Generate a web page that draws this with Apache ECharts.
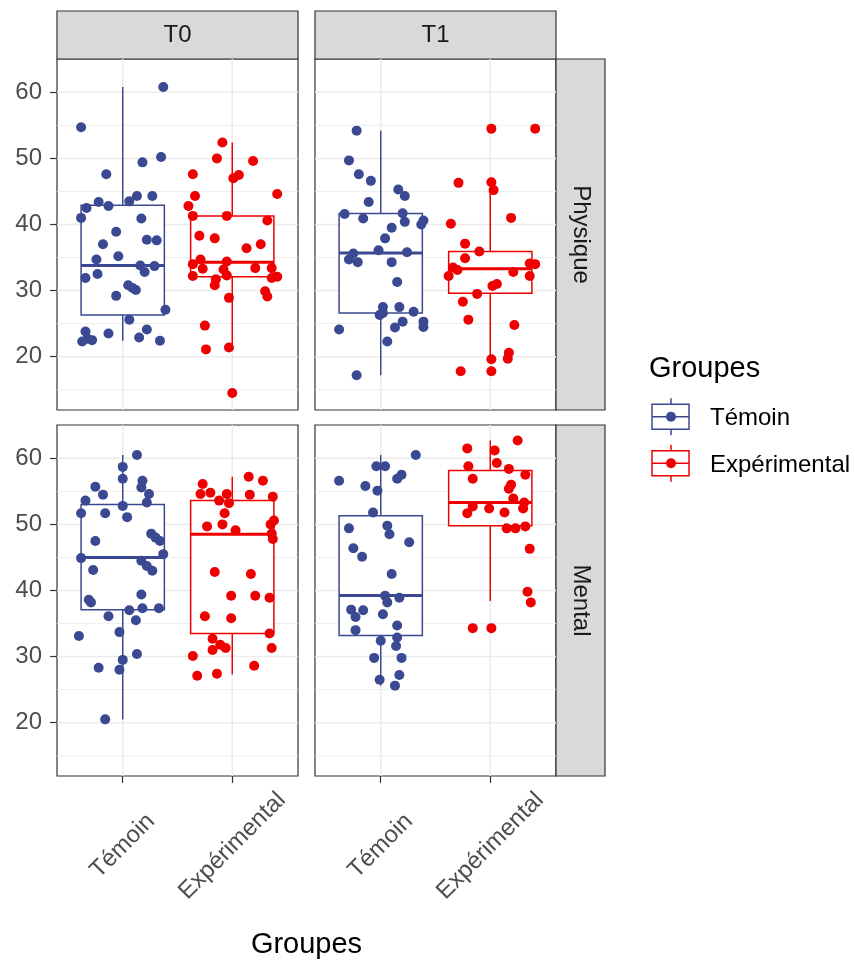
<!DOCTYPE html>
<html><head><meta charset="utf-8">
<script src="https://cdn.jsdelivr.net/npm/echarts@6/dist/echarts.min.js"></script>
<style>html,body{margin:0;padding:0;background:#fff;}#c{width:855px;height:963px;}</style>
</head><body><div id="c"></div>
<script>
// ---------- data ----------
const categories = ['Témoin', 'Expérimental'];
const times = ['T0', 'T1'];
const measures = ['Physique', 'Mental'];
const yTicks = [20, 30, 40, 50, 60];
const yMinorGrid = [15, 25, 35, 45, 55];
const groupColors = ['#3B4992', '#EE0000'];

// T0 Physique
const t0PhyTemVal = [60.8,54.7,49.4,50.2,47.6,44.3,44.3,43.5,43.4,42.8,42.5,41.0,40.9,38.9,37.0,37.7,37.6,35.2,34.7,33.8,33.7,32.8,31.9,32.5,30.8,30.1,29.2,27.1,25.6,23.8,24.1,23.5,22.9,22.3,22.5,22.4,22.7,30.4];
const t0PhyTemJit = [0.37,-0.38,0.18,0.35,-0.15,0.13,0.27,0.06,-0.22,-0.13,-0.33,-0.38,0.17,-0.06,-0.18,0.22,0.31,-0.04,-0.24,0.16,0.29,0.20,-0.34,-0.23,0.05,0.12,-0.06,0.39,0.06,-0.34,0.22,-0.13,0.15,-0.37,-0.28,0.34,-0.32,0.09];
const t0PhyExpVal = [52.4,50.0,49.6,47.6,47.0,47.5,44.3,44.6,42.8,41.3,41.3,40.6,38.3,37.9,36.4,37.0,34.7,34.0,34.4,33.3,33.2,33.4,33.4,32.2,32.3,31.7,30.8,31.9,32.1,29.9,29.1,28.9,24.7,21.1,21.4,14.5];
const t0PhyExpJit = [-0.09,-0.14,0.19,-0.36,0.01,0.06,-0.34,0.41,-0.40,-0.36,-0.05,0.32,-0.30,-0.16,0.13,0.26,-0.29,-0.36,-0.05,-0.27,-0.08,0.21,0.36,-0.36,-0.05,-0.15,-0.16,0.36,0.41,0.30,0.32,-0.03,-0.25,-0.24,-0.03,0.00];
// T1 Physique
const t1PhyTemVal = [54.2,49.7,47.6,46.6,45.3,44.3,43.4,41.6,40.9,41.7,40.4,40.6,40.0,39.5,37.9,36.1,35.8,35.6,34.7,34.3,34.3,31.3,27.5,27.5,26.8,26.3,26.6,25.3,24.4,25.3,24.5,24.1,22.3,17.2];
const t1PhyTemJit = [-0.22,-0.29,-0.20,-0.09,0.16,0.22,-0.11,-0.33,-0.16,0.20,0.22,0.39,0.37,0.10,0.04,-0.02,0.24,-0.25,-0.29,-0.21,0.10,0.15,0.02,0.17,0.30,-0.01,0.02,0.20,0.13,0.39,0.39,-0.38,0.06,-0.22];
const t1PhyExpVal = [54.5,54.5,46.3,46.4,45.2,40.1,41.0,37.1,35.9,34.9,33.5,33.1,32.2,32.8,34.1,34.0,32.2,30.7,31.0,29.5,28.3,25.6,24.8,19.6,20.6,19.7,17.8,17.8];
const t1PhyExpJit = [0.01,0.41,-0.29,0.01,0.03,-0.36,0.19,-0.23,-0.10,-0.23,-0.34,-0.30,-0.38,0.21,0.36,0.41,0.36,0.02,0.06,-0.12,-0.25,-0.20,0.22,0.01,0.17,0.16,-0.27,0.01];
// T0 Mental
const t0MenTemVal = [60.5,58.7,56.9,56.6,55.6,55.7,54.5,54.6,53.6,53.3,52.8,51.7,51.7,51.1,48.6,48.0,47.5,47.5,45.5,44.9,44.5,43.7,43.0,43.1,39.4,38.6,38.2,37.0,37.3,37.3,36.1,35.5,33.7,33.1,30.4,29.5,28.3,28.0,20.5];
const t0MenTemJit = [0.13,0.00,0.00,0.18,0.17,-0.25,-0.18,0.24,-0.34,0.22,0.00,-0.38,-0.16,0.04,0.26,0.30,0.34,-0.25,0.37,-0.38,0.17,0.22,0.27,-0.27,0.17,-0.31,-0.29,0.06,0.18,0.33,-0.13,0.12,-0.03,-0.40,0.13,0.00,-0.22,-0.03,-0.16];
const t0MenExpVal = [57.2,56.6,56.1,54.6,54.8,54.6,53.6,53.2,54.5,54.2,51.7,50.6,50.0,49.7,50.0,49.1,48.6,47.8,42.8,42.5,39.2,39.2,38.9,36.1,35.8,33.5,32.7,31.8,31.3,31.0,31.3,30.1,28.6,27.1,27.4];
const t0MenExpJit = [0.15,0.28,-0.27,-0.29,-0.20,-0.05,-0.12,-0.03,0.16,0.37,-0.07,0.38,0.35,-0.23,-0.09,0.03,0.36,0.37,-0.16,0.17,-0.01,0.21,0.34,-0.25,-0.01,0.34,-0.18,-0.11,-0.06,-0.18,0.36,-0.36,0.20,-0.32,-0.14];
// T1 Mental
const t1MenTemVal = [60.5,58.8,58.8,57.5,56.9,56.6,55.8,55.1,51.8,49.4,49.8,48.5,47.3,46.4,45.1,42.5,39.2,38.2,38.9,37.1,37.0,36.0,36.4,34.7,34.0,32.4,32.9,31.6,29.8,29.8,26.5,27.2,25.6];
const t1MenTemJit = [0.32,-0.04,0.04,0.19,0.15,-0.38,-0.14,-0.03,-0.07,-0.29,0.06,0.08,0.26,-0.25,-0.17,0.10,0.04,0.06,0.17,-0.27,-0.16,-0.23,0.02,0.15,-0.23,0.00,0.15,0.14,-0.06,0.19,-0.01,0.17,0.13];
const t1MenExpVal = [62.7,61.5,61.2,59.3,58.8,58.4,56.9,57.5,56.0,55.4,53.9,53.3,52.4,52.7,52.4,51.7,51.8,49.4,49.4,49.7,46.3,39.8,38.2,34.3,34.3];
const t1MenExpJit = [0.25,-0.21,0.04,0.06,-0.20,0.17,-0.16,0.32,0.19,0.17,0.21,0.31,0.30,-0.16,-0.01,-0.21,0.13,0.15,0.23,0.32,0.36,0.34,0.37,-0.16,0.01];

// box stats: [lower whisker, Q1, median, Q3, upper whisker]
const boxT0PhyTem = [22.4, 26.3, 33.8, 42.9, 60.8];
const boxT0PhyExp = [21.4, 32.1, 34.3, 41.3, 52.4];
const boxT1PhyTem = [17.2, 26.6, 35.7, 41.65, 54.2];
const boxT1PhyExp = [19.6, 29.6, 33.3, 35.9, 45.2];
const boxT0MenTem = [20.5, 37.1, 45.0, 53.0, 60.5];
const boxT0MenExp = [27.3, 33.5, 48.5, 53.6, 57.2];
const boxT1MenTem = [25.6, 33.2, 39.25, 51.3, 60.5];
const boxT1MenExp = [38.4, 49.8, 53.3, 58.15, 62.7];

// ---------- layout ----------
const FONT = "'Liberation Sans', Arial, Helvetica, sans-serif";
const panels = [
  {left: 57, top: 59,  tem: [t0PhyTemVal, t0PhyTemJit], exp: [t0PhyExpVal, t0PhyExpJit], boxes: [boxT0PhyTem, boxT0PhyExp]},
  {left: 315, top: 59, tem: [t1PhyTemVal, t1PhyTemJit], exp: [t1PhyExpVal, t1PhyExpJit], boxes: [boxT1PhyTem, boxT1PhyExp]},
  {left: 57, top: 425, tem: [t0MenTemVal, t0MenTemJit], exp: [t0MenExpVal, t0MenExpJit], boxes: [boxT0MenTem, boxT0MenExp]},
  {left: 315, top: 425, tem: [t1MenTemVal, t1MenTemJit], exp: [t1MenExpVal, t1MenExpJit], boxes: [boxT1MenTem, boxT1MenExp]}
];
const PW = 241, PH = 351, HW = 0.38;

const grids = [], xAxes = [], yAxes = [], series = [];
panels.forEach((p, i) => {
  const isBottom = i >= 2, isLeft = i % 2 === 0;
  grids.push({left: p.left, top: p.top, width: PW, height: PH, show: true, borderColor: '#333333', borderWidth: 1.2, backgroundColor: 'transparent'});
  xAxes.push({
    type: 'value', gridIndex: i, min: 0.4, max: 2.6,
    axisLine: {show: false}, splitLine: {show: false},
    axisTick: {show: isBottom, customValues: [1, 2], length: 7, lineStyle: {color: '#333333', width: 1.2}},
    axisLabel: {show: isBottom, customValues: [1, 2], interval: 0, rotate: 45, margin: 70,
      align: 'center', verticalAlign: 'middle',
      formatter: v => categories[Math.round(v) - 1] || '', color: '#4D4D4D', fontSize: 24, fontFamily: FONT}
  });
  yAxes.push({
    type: 'value', gridIndex: i, min: 11.93, max: 65.04,
    axisLine: {show: false}, splitLine: {show: false},
    axisTick: {show: isLeft, customValues: yTicks, length: 7, lineStyle: {color: '#333333', width: 1.2}},
    axisLabel: {show: isLeft, customValues: yTicks, margin: 15, color: '#4D4D4D', fontSize: 24, fontFamily: FONT}
  });
  // grid lines
  const gl = [];
  yTicks.forEach(v => gl.push([1.5, v, 0, 1]));
  yMinorGrid.forEach(v => gl.push([1.5, v, 0, 0]));
  [1, 2].forEach(v => gl.push([v, 40, 1, 1]));
  series.push({
    type: 'custom', xAxisIndex: i, yAxisIndex: i, z: 1, silent: true, data: gl,
    renderItem: (params, api) => {
      const cs = params.coordSys;
      const w = api.value(3) ? 1.5 : 0.9;
      if (api.value(2) === 0) {
        const y = api.coord([1.5, api.value(1)])[1];
        return {type: 'line', shape: {x1: cs.x, y1: y, x2: cs.x + cs.width, y2: y}, style: {stroke: '#EBEBEB', lineWidth: w}};
      }
      const x = api.coord([api.value(0), 40])[0];
      return {type: 'line', shape: {x1: x, y1: cs.y, x2: x, y2: cs.y + cs.height}, style: {stroke: '#EBEBEB', lineWidth: w}};
    }
  });
  // boxes
  series.push({
    type: 'custom', xAxisIndex: i, yAxisIndex: i, z: 2, silent: true,
    data: p.boxes.map((b, g) => [g + 1].concat(b).concat([g])),
    encode: {x: 0, y: 3},
    renderItem: (params, api) => {
      const x = api.value(0), col = groupColors[api.value(6)];
      const lo = api.coord([x, api.value(1)]), q1 = api.coord([x + HW, api.value(2)]);
      const md = api.coord([x - HW, api.value(3)]), mdR = api.coord([x + HW, api.value(3)]);
      const q3 = api.coord([x - HW, api.value(4)]), hi = api.coord([x, api.value(5)]);
      return {type: 'group', children: [
        {type: 'line', shape: {x1: hi[0], y1: hi[1], x2: hi[0], y2: q3[1]}, style: {stroke: col, lineWidth: 1.5}},
        {type: 'line', shape: {x1: lo[0], y1: q1[1], x2: lo[0], y2: lo[1]}, style: {stroke: col, lineWidth: 1.5}},
        {type: 'rect', shape: {x: q3[0], y: q3[1], width: q1[0] - q3[0], height: q1[1] - q3[1]}, style: {fill: '#fff', stroke: col, lineWidth: 1.5}},
        {type: 'line', shape: {x1: md[0], y1: md[1], x2: mdR[0], y2: mdR[1]}, style: {stroke: col, lineWidth: 3}}
      ]};
    }
  });
  // points
  [p.tem, p.exp].forEach((grp, g) => {
    series.push({
      type: 'scatter', xAxisIndex: i, yAxisIndex: i, z: 3, symbolSize: 10, silent: true,
      itemStyle: {color: groupColors[g], opacity: 1},
      data: grp[0].map((v, k) => [g + 1 + grp[1][k], v])
    });
  });
});

// strips, titles, legend
const graphics = [];
const txt = (x, y, text, size, color, extra) => Object.assign({type: 'text', x: x, y: y,
  style: {text: text, fontSize: size, fill: color, fontFamily: FONT, align: 'center', verticalAlign: 'middle'}}, extra || {});
[[57, 'T0'], [315, 'T1']].forEach(([x, t]) => {
  graphics.push({type: 'rect', shape: {x: x, y: 11, width: PW, height: 48}, style: {fill: '#D9D9D9', stroke: '#333333', lineWidth: 1.2}});
  graphics.push(txt(x + PW / 2, 35.5, t, 24, '#1A1A1A'));
});
[[59, measures[0]], [425, measures[1]]].forEach(([y, t]) => {
  graphics.push({type: 'rect', shape: {x: 556, y: y, width: 49, height: PH}, style: {fill: '#D9D9D9', stroke: '#333333', lineWidth: 1.2}});
  graphics.push(txt(581, y + PH / 2, t, 24, '#1A1A1A', {rotation: -Math.PI / 2}));
});
graphics.push(txt(306.5, 945, 'Groupes', 29, '#000000'));
graphics.push(Object.assign(txt(649, 369, 'Groupes', 29, '#000000'), {}));
graphics[graphics.length - 1].style.align = 'left';
[[416.7, 0], [463.3, 1]].forEach(([cy, g]) => {
  const col = groupColors[g];
  graphics.push({type: 'line', shape: {x1: 671, y1: cy - 18.5, x2: 671, y2: cy + 18.5}, style: {stroke: col, lineWidth: 1.5}});
  graphics.push({type: 'rect', shape: {x: 652, y: cy - 12.5, width: 37, height: 25}, style: {fill: '#fff', stroke: col, lineWidth: 1.5}});
  graphics.push({type: 'line', shape: {x1: 652, y1: cy, x2: 689, y2: cy}, style: {stroke: col, lineWidth: 1.5}});
  graphics.push({type: 'circle', shape: {cx: 671, cy: cy, r: 5}, style: {fill: col}});
  const t = txt(710, cy + 2, categories[g], 24, '#000000');
  t.style.align = 'left';
  graphics.push(t);
});

const chart = echarts.init(document.getElementById('c'), null, {renderer: 'canvas'});
chart.setOption({
  animation: false,
  grid: grids, xAxis: xAxes, yAxis: yAxes, series: series,
  graphic: graphics
});
</script></body></html>
